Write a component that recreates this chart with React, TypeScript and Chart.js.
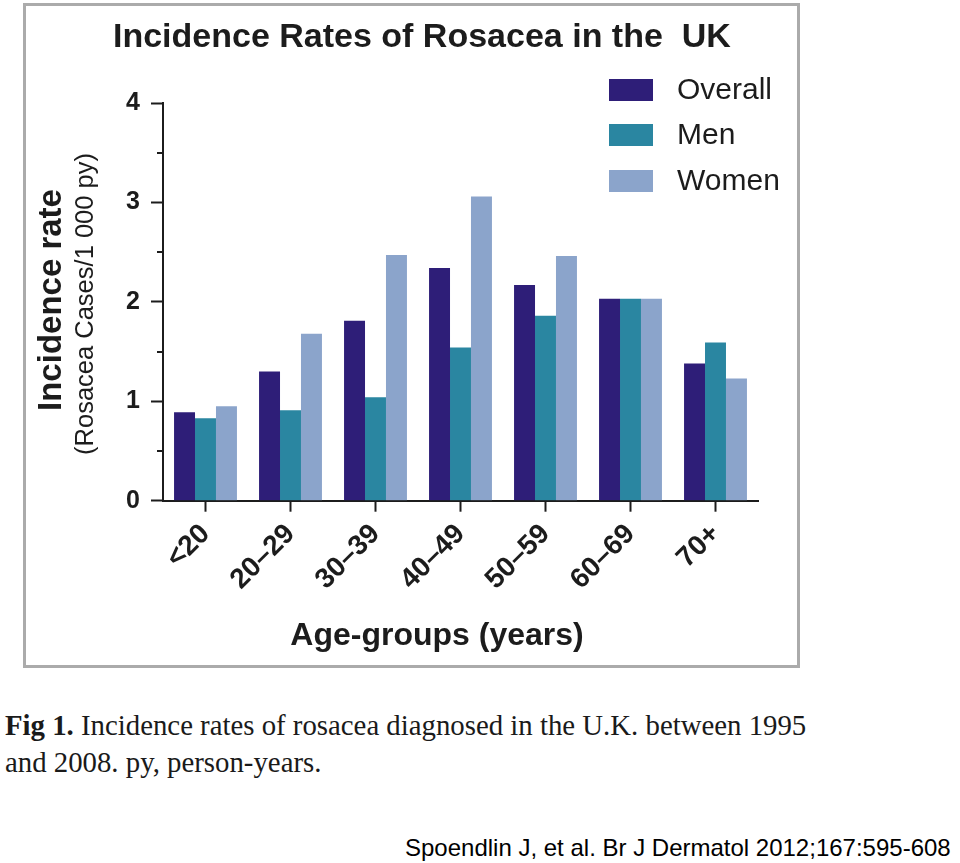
import React, { useEffect, useRef } from "react";
import { Chart, registerables } from "chart.js";

Chart.register(...registerables);

const categories = ["<20", "20–29", "30–39", "40–49", "50–59", "60–69", "70+"];
const overall = [0.89, 1.3, 1.81, 2.34, 2.17, 2.03, 1.38];
const men = [0.83, 0.91, 1.04, 1.54, 1.86, 2.03, 1.59];
const women = [0.95, 1.68, 2.47, 3.06, 2.46, 2.03, 1.23];
const seriesLabels = ["Overall", "Men", "Women"];
const seriesColors = ["#2e1e78", "#2a86a1", "#8ba4cb"];
const chartTitle = "Incidence Rates of Rosacea in the  UK";
const yTitle = "Incidence rate";
const ySubTitle = "(Rosacea Cases/1 000 py)";
const xTitle = "Age-groups (years)";
const captionLines = [
  ["Fig 1.", " Incidence rates of rosacea diagnosed in the U.K. between 1995"],
  ["", "and 2008. py, person-years."],
];
const citation = "Spoendlin J, et al. Br J Dermatol 2012;167:595-608";

const SANS = "'Liberation Sans', Arial, Helvetica, sans-serif";
const INK = "#1c1c1c";

const extrasPlugin = {
  id: "extras",
  afterDraw(chart: any) {
    const ctx = chart.ctx as CanvasRenderingContext2D;
    const y = chart.scales.y;
    const area = chart.chartArea;
    ctx.save();
    // minor ticks
    ctx.strokeStyle = INK;
    ctx.lineWidth = 2;
    for (let v = 0.5; v < 4; v += 1) {
      const py = Math.round(y.getPixelForValue(v));
      ctx.beginPath();
      ctx.moveTo(area.left - 6, py);
      ctx.lineTo(area.left, py);
      ctx.stroke();
    }
    // y titles
    ctx.fillStyle = INK;
    ctx.textAlign = "center";
    ctx.textBaseline = "middle";
    ctx.save();
    ctx.translate(52, 300);
    ctx.rotate(-Math.PI / 2);
    ctx.font = `bold 33px ${SANS}`;
    ctx.fillText(yTitle, 0, 0);
    ctx.restore();
    ctx.save();
    ctx.translate(86, 304);
    ctx.rotate(-Math.PI / 2);
    ctx.font = `25.5px ${SANS}`;
    ctx.fillText(ySubTitle, 0, 0);
    ctx.restore();
    // x title
    ctx.font = `bold 32px ${SANS}`;
    ctx.fillText(xTitle, 437, 636);
    // legend
    const ds = chart.data.datasets;
    ctx.textAlign = "left";
    ctx.font = `30px ${SANS}`;
    const rows = [90, 135, 181];
    ds.forEach((d: any, i: number) => {
      ctx.fillStyle = d.backgroundColor;
      ctx.fillRect(609, rows[i] - 11, 44, 22);
      ctx.fillStyle = INK;
      ctx.fillText(d.label, 677, rows[i] + 1);
    });
    ctx.restore();
  },
};

export default function App() {
  const ref = useRef<HTMLCanvasElement | null>(null);
  useEffect(() => {
    if (!ref.current) return;
    const chart = new Chart(ref.current, {
      type: "bar",
      data: {
        labels: categories,
        datasets: [overall, men, women].map((vals, i) => ({
          label: seriesLabels[i],
          data: vals,
          backgroundColor: seriesColors[i],
          borderWidth: 0,
          categoryPercentage: 0.74,
          barPercentage: 1.0,
        })),
      },
      options: {
        animation: false,
        responsive: false,
        maintainAspectRatio: false,
        layout: { padding: { left: 113, right: 202, top: 0, bottom: 0 } },
        plugins: {
          legend: { display: false },
          tooltip: { enabled: false },
          title: {
            display: true,
            text: chartTitle,
            align: "start",
            fullSize: true,
            color: INK,
            font: { family: SANS, size: 34, weight: "bold", lineHeight: 1.2 },
            padding: { top: 17.6, bottom: 44.6 },
          },
        },
        scales: {
          x: {
            offset: true,
            grid: {
              offset: false,
              drawOnChartArea: false,
              tickLength: 11,
              tickWidth: 2,
              tickColor: INK,
            },
            border: { display: true, color: INK, width: 2 },
            ticks: {
              minRotation: 45,
              maxRotation: 45,
              autoSkip: false,
              padding: 6,
              color: INK,
              font: { family: SANS, size: 28, weight: "bold" },
            },
            afterFit: (s: any) => {
              s.height = 179.3;
            },
          },
          y: {
            min: 0,
            max: 4,
            grid: {
              drawOnChartArea: false,
              tickLength: 12,
              tickWidth: 2,
              tickColor: (c: any) => (c.tick && c.tick.value % 1 === 0 ? INK : "rgba(0,0,0,0)"),
            },
            border: { display: true, color: INK, width: 2 },
            ticks: {
              stepSize: 0.5,
              autoSkip: false,
              padding: 11,
              color: INK,
              font: { family: SANS, size: 25, weight: "bold" },
              callback: (v: any) => (Number(v) % 1 === 0 ? String(v) : ""),
            },
            afterFit: (s: any) => {
              s.width = 50;
            },
          },
        },
      },
      plugins: [extrasPlugin],
    });
    return () => chart.destroy();
  }, []);

  return (
    <div style={{ position: "absolute", left: 0, top: 0, width: 960, height: 863, background: "#fff", overflow: "hidden" }}>
      <div
        style={{
          position: "absolute",
          left: 23,
          top: 3,
          width: 777,
          height: 665,
          boxSizing: "border-box",
          border: "3px solid #ababab",
        }}
      />
      <canvas ref={ref} width={960} height={680} style={{ position: "absolute", left: 0, top: 0, width: 960, height: 680 }} />
      <div
        style={{
          position: "absolute",
          left: 5,
          top: 707,
          fontFamily: "'Liberation Serif', 'Times New Roman', serif",
          fontSize: 28.8,
          lineHeight: "37px",
          color: "#1a1a1a",
          whiteSpace: "nowrap",
        }}
      >
        {captionLines.map((l, i) => (
          <div key={i}>
            {l[0] ? <b style={{ fontWeight: 600 }}>{l[0]}</b> : null}
            {l[1]}
          </div>
        ))}
      </div>
      <div
        style={{
          position: "absolute",
          left: 405,
          top: 834,
          fontFamily: SANS,
          fontSize: 24,
          lineHeight: "28px",
          color: "#000",
          whiteSpace: "nowrap",
        }}
      >
        {citation}
      </div>
    </div>
  );
}
